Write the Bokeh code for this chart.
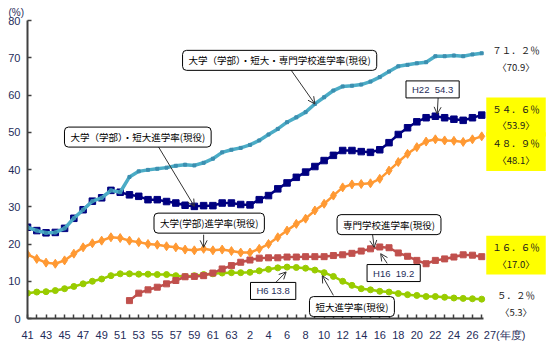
from bokeh.plotting import figure
from bokeh.models import Range1d, FixedTicker, Label, Arrow, OpenHead
from bokeh.embed import file_html
from bokeh.resources import INLINE

# ---- data ----
era_years = [str(y) for y in range(41, 64)] + [str(y) for y in range(1, 28)]  # S41..S63, H1..H27
shown_labels = [str(y) for y in range(41, 64, 2)] + [str(y) for y in range(2, 27, 2)]
last_label = "27(年度)"

# 大学（学部）・短大・専門学校進学率(現役)
kou_all = [24.5, 23.6, 23.0, 23.1, 24.2, 26.9, 29.2, 31.5, 32.4, 34.4,
           33.9, 38.0, 39.5, 39.9, 40.2, 40.5, 41.0, 41.3, 41.1, 41.8,
           42.9, 44.6, 45.3, 45.8, 46.6, 47.8, 49.4, 50.9, 52.7, 54.0,
           55.4, 57.6, 59.4, 61.2, 62.3, 62.5, 62.8, 63.6, 64.8, 66.3,
           67.7, 68.1, 68.5, 68.8, 70.4, 70.4, 70.6, 70.4, 70.9, 71.2]
# 大学（学部）・短大進学率(現役)
univ_junior = [24.5, 23.6, 23.0, 23.1, 24.2, 26.9, 29.2, 31.5, 32.4, 34.4,
               33.9, 33.2, 32.8, 31.9, 31.9, 31.4, 31.0, 30.4, 30.1, 30.3,
               30.3, 31.0, 31.0, 30.6, 30.5, 31.9, 33.0, 34.8, 36.4, 37.9,
               39.3, 40.8, 42.4, 43.8, 45.1, 45.1, 44.8, 44.6, 45.3, 47.2,
               49.4, 51.2, 52.8, 53.9, 54.3, 53.9, 53.5, 53.2, 53.9, 54.6]
# 大学(学部)進学率(現役)
univ = [17.2, 16.0, 15.0, 14.7, 15.6, 17.4, 19.1, 20.2, 20.9, 21.8,
        21.6, 20.9, 20.5, 20.0, 19.8, 19.4, 19.1, 18.5, 18.3, 18.7,
        18.3, 18.5, 18.1, 17.7, 17.7, 18.7, 20.0, 21.8, 23.6, 25.4,
        26.8, 29.0, 30.8, 33.0, 35.2, 36.0, 36.1, 36.3, 37.5, 39.7,
        42.0, 44.2, 46.0, 47.5, 48.1, 47.8, 47.7, 47.4, 48.1, 48.9]
# 専門学校進学率(現役)  (from S52)
senmon_start = 11
senmon = [4.8, 6.8, 7.7, 8.4, 9.3, 10.2, 11.2, 11.3, 11.5, 12.2,
          13.3, 14.2, 15.1, 15.7, 16.2, 16.3, 16.3, 16.5, 16.5, 16.6,
          16.6, 16.6, 16.9, 17.1, 17.5, 18.1, 18.7, 19.2, 19.0, 17.6,
          16.7, 15.6, 14.7, 15.6, 16.0, 16.5, 17.1, 17.0, 16.6]
# 短大進学率(現役)
junior = [6.8, 7.1, 7.2, 7.5, 8.0, 8.6, 9.3, 10.0, 10.6, 11.5,
          12.0, 12.0, 11.9, 11.9, 11.8, 11.8, 11.5, 11.3, 11.5, 11.8,
          12.0, 12.2, 12.3, 12.3, 12.4, 12.8, 13.2, 13.6, 13.8, 13.7,
          13.5, 13.0, 12.3, 11.3, 10.0, 8.9, 8.0, 7.7, 7.3, 7.1,
          6.7, 6.4, 6.2, 5.9, 5.9, 5.7, 5.5, 5.4, 5.3, 5.2]

x = list(range(len(era_years)))
x_senmon = x[senmon_start:]

C_LB = "#4BACC6"
C_DB = "#000080"
C_OR = "#FF9933"
C_RD = "#C0504D"
C_GR = "#99CC00"
NAVY_TXT = "#1F2D5A"
JP = "Noto Sans CJK JP"
NB = "\u00a0"

# frame spans to the right edge so the side notes are inside it; axis line limited by bounds
p = figure(width=550, height=351, x_range=Range1d(0, 56.42), y_range=Range1d(0, 80),
           output_backend="svg", toolbar_location=None,
           min_border_left=27, min_border_right=0, min_border_top=20, min_border_bottom=33)
p.outline_line_color = None
p.xgrid.visible = False
p.ygrid.visible = False
p.background_fill_color = "white"
p.border_fill_color = "white"

p.title.text = "(%)"
p.title.align = "left"
p.title.offset = -19
p.title.standoff = 5
p.title.text_font = "Liberation Sans"
p.title.text_font_style = "normal"
p.title.text_font_size = "10px"
p.title.text_color = NAVY_TXT

# axes
p.yaxis.ticker = FixedTicker(ticks=list(range(0, 81, 10)))
p.xaxis.ticker = FixedTicker(ticks=x)
p.xaxis.bounds = (0, 49.2)
overrides = {}
for i, lab in enumerate(era_years):
    overrides[i] = lab if lab in shown_labels else ""
overrides[len(era_years) - 1] = NB * 15 + last_label
p.xaxis.major_label_overrides = overrides
for ax in (p.xaxis[0], p.yaxis[0]):
    ax.axis_line_color = "#404040"
    ax.axis_line_width = 2
    ax.major_tick_in = 4
    ax.major_tick_out = 0
    ax.major_tick_line_color = "#404040"
    ax.major_tick_line_width = 1.5
    ax.minor_tick_line_color = None
    ax.major_label_text_color = NAVY_TXT
    ax.major_label_text_font = "Liberation Sans"
    ax.major_label_text_font_size = "11px"
p.yaxis.major_label_standoff = 7
p.xaxis.major_label_standoff = 10

# series
p.line(x, junior, color=C_GR, line_width=2.5)
p.scatter(x, junior, marker="circle", size=6, color=C_GR)
p.line(x_senmon, senmon, color=C_RD, line_width=2.5)
p.scatter(x_senmon, senmon, marker="square", size=6, color=C_RD)
p.line(x, univ, color=C_OR, line_width=2.5)
p.scatter(x, univ, marker="diamond", size=9, color=C_OR)
p.line(x, univ_junior, color=C_DB, line_width=2.5)
p.scatter(x, univ_junior, marker="square", size=6.5, color=C_DB)
p.line(x, kou_all, color=C_LB, line_width=3.5)
p.scatter(x, kou_all, marker="square", size=3, color="#3C8FB0")


def callout(xc, yc, text, font=JP, rounded=True, color="black"):
    p.add_layout(Label(x=xc, y=yc, text=text, text_align="center", text_baseline="middle",
                       text_font=font, text_font_size="9.5px", text_color=color,
                       background_fill_color="white", border_line_color="black",
                       border_line_width=1, border_radius=4 if rounded else 0,
                       padding=dict(x=6, y=3)))


def arrow(xs, ys, xe, ye):
    p.add_layout(Arrow(end=OpenHead(size=7, line_width=1, line_color="#333333"),
                       x_start=xs, y_start=ys, x_end=xe, y_end=ye,
                       line_color="#333333", line_width=1))


# arrows (start at box edge, end near data point)
arrow(28.4, 66.8, 31, kou_all[31])
arrow(14.1, 46.2, 18, univ_junior[18])
arrow(19, 22.5, 19, univ[19] + 0.4)
arrow(26.75, 9.6, 27.9, junior[28] - 1.3)
arrow(33.0, 6.2, 31.8, junior[32] - 0.8)
arrow(37.2, 23.0, 37.4, senmon[37 - senmon_start] + 0.4)
arrow(38.8, 14.8, 38.1, senmon[38 - senmon_start] - 1.8)
arrow(44.3, 59.3, 44.2, univ_junior[44] + 0.6)

callout(27.2, 69.3, "大学（学部）・短大・専門学校進学率(現役)")
callout(11.9, 48.7, "大学（学部）・短大進学率(現役)")
callout(19.6, 25.6, "大学(学部)進学率(現役)")
callout(35.0, 3.2, "短大進学率(現役)")
callout(39.0, 25.2, "専門学校進学率(現役)")
callout(26.5, 7.4, "H6 13.8", font="Liberation Sans", rounded=False, color=NAVY_TXT)
callout(39.5, 12.2, "H16" + NB * 2 + "19.2", font="Liberation Sans", rounded=False, color=NAVY_TXT)
callout(43.7, 61.5, "H22" + NB * 2 + "54.3", font="Liberation Sans", rounded=False, color=NAVY_TXT)


def side(yc, text, highlight):
    p.add_layout(Label(x=52.7, y=yc, text=text, text_align="center", text_baseline="middle",
                       text_font=JP, text_font_size="9.5px", text_color="#1A1A1A",
                       background_fill_color="#FFFF00" if highlight else None,
                       border_line_color=None, padding=dict(x=6, y=4)))


side(69.9, "７１．２％\n〈70.9〉", False)
side(54.1, "５４．６％\n〈53.9〉", True)
side(44.8, "４８．９％\n〈48.1〉", True)
side(17.0, "１６．６％\n〈17.0〉", True)
side(4.0, "５．２％\n〈5.3〉", False)

open("out.html", "w").write(file_html(p, INLINE))
